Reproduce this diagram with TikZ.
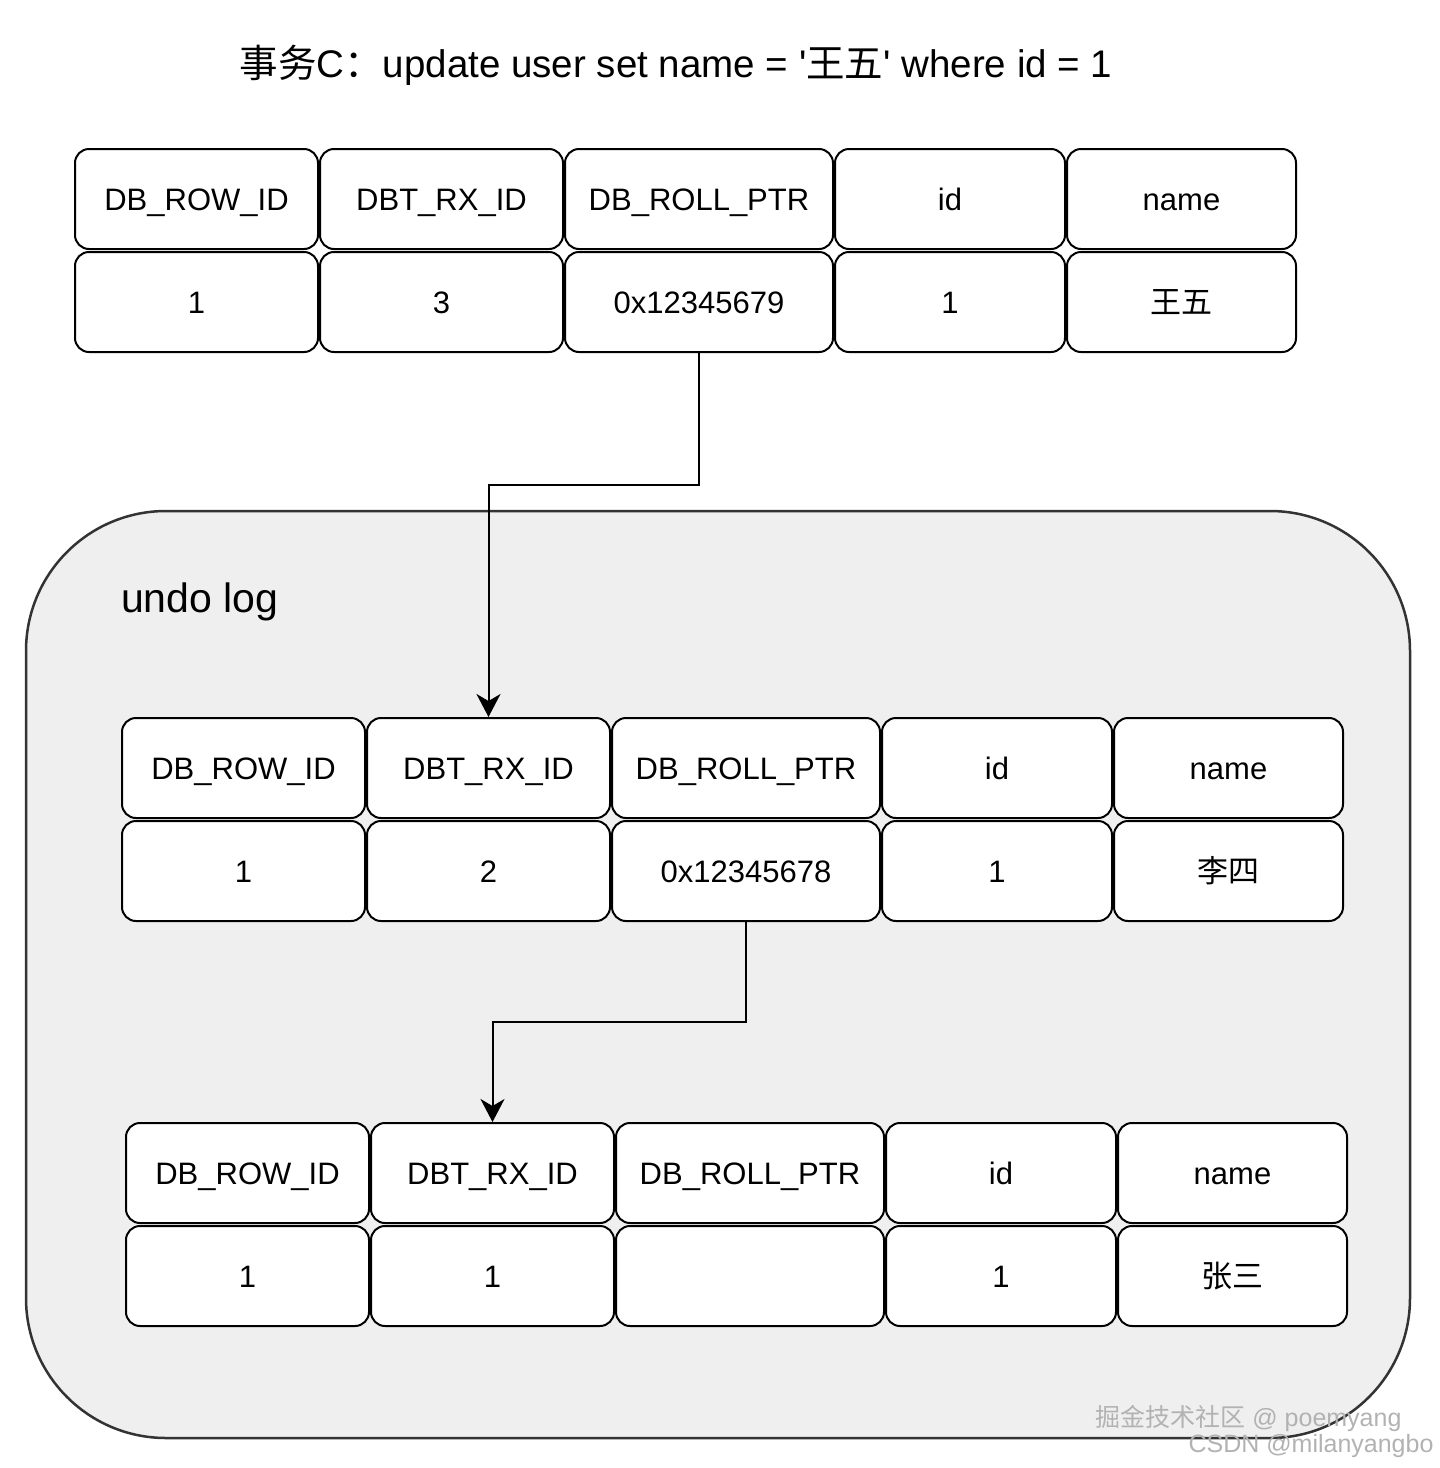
\documentclass[tikz,border=0pt]{standalone}
\usepackage{fontspec}
\usepackage{xcolor}
\usepackage{tikz}
\usetikzlibrary{arrows.meta}
\setmainfont{Liberation Sans}
\newfontfamily\cjk{Noto Sans CJK SC}
\definecolor{undobg}{HTML}{EFEFEF}
\definecolor{undoline}{HTML}{333333}
\tikzset{
	cell/.style={draw, line width=2pt, rounded corners=14pt, fill=white, inner sep=0pt,
		minimum height=100pt, text height=22pt, text depth=0pt, font=\fontsize{31}{31}\selectfont},
	ptrarrow/.style={line width=2pt, -{Stealth[length=23pt, width=24pt, inset=7pt]}},
	mark text/.style={font=\fontsize{25}{25}\selectfont, text=gray!60, anchor=base east}
}

\begin{document}
\begin{tikzpicture}[x=1pt, y=-1pt]
\useasboundingbox (0,0) rectangle (1440,1468);

\node[font=\fontsize{38.5}{38.5}\selectfont, anchor=west] (title) at (236,65)
	{{\cjk 事务}C{\cjk ：}update user set name = \textquotesingle{\cjk 王五}\textquotesingle{} where id = 1};

\draw[undoline, fill=undobg, line width=2.5pt, rounded corners=140pt] (26,511) rectangle (1410,1438);
\node[font=\fontsize{41}{41}\selectfont, anchor=base west, inner sep=0pt] (undo) at (121,612) {undo log};

\foreach \t/\ox/\oy/\rx/\ptr/\nm in {a/74/148/3/0x12345679/王五, b/121/717/2/0x12345678/李四, c/125/1122/1//张三}{
	\foreach \l/\r/\h/\v [count=\i] in {0/245/DB\_ROW\_ID/1, 245/490/DBT\_RX\_ID/\rx,
		490/760/DB\_ROLL\_PTR/\ptr, 760/992/id/1, 992/1223/name/{\cjk\nm}}{
		\node[cell, minimum width=\r-\l-2] (\t h\i) at ({\ox+(\l+\r)/2}, \oy+51) {\h};
		\node[cell, minimum width=\r-\l-2] (\t v\i) at ({\ox+(\l+\r)/2}, \oy+154) {\v};
	}
}

\draw[ptrarrow] (av3.south) -- ++(0,132) -| (bh2.north);
\draw[ptrarrow] (bv3.south) -- ++(0,100) -| (ch2.north);

\node[mark text] (mark1) at (1405,1426) {{\cjk 掘金技术社区} @ poemyang};
\node[mark text] (mark2) at (1437,1452) {CSDN @milanyangbo};

\end{tikzpicture}
\end{document}
